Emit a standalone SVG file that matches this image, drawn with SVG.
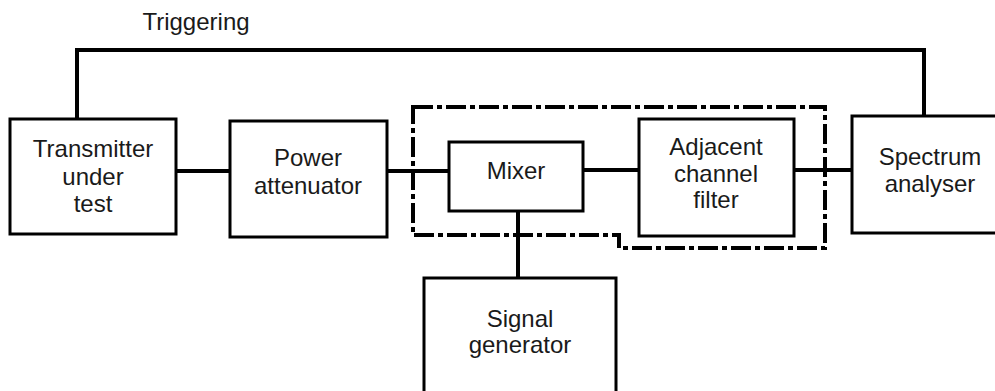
<svg xmlns="http://www.w3.org/2000/svg" width="995" height="391" viewBox="0 0 995 391">
<style>
.box{fill:#fff;stroke:#000;stroke-width:3}
.t{font-family:"Liberation Sans",Arial,sans-serif;font-size:24px;fill:#1a1a1a;text-anchor:middle}
.c{fill:none;stroke:#000;stroke-width:4}
.g{fill:none;stroke:#000;stroke-width:4;stroke-dasharray:20 4 5 4}
</style>
<rect width="995" height="391" fill="#fff"/>
<path class="g" d="M413,107 H825 V248 H619 V235 H413 Z"/>
<g id="connectors">
<path class="c" d="M77,119 V50 H924 V116"/>
<path class="c" d="M176,171 H232"/>
<path class="c" d="M386,171 H449"/>
<path class="c" d="M583,170 H640"/>
<path class="c" d="M794,170 H853"/>
<path class="c" d="M518,211 V278"/>
</g>
<text class="t" x="196" y="30">Triggering</text>
<g id="transmitter">
<rect class="box" x="10" y="119" width="166" height="115"/>
<text class="t" x="93" y="157">Transmitter</text>
<text class="t" x="93" y="185">under</text>
<text class="t" x="93" y="212">test</text>
</g>
<g id="attenuator">
<rect class="box" x="230" y="121" width="157" height="116"/>
<text class="t" x="308" y="166">Power</text>
<text class="t" x="308" y="194">attenuator</text>
</g>
<g id="mixer">
<rect class="box" x="449" y="142" width="134" height="69"/>
<text class="t" x="516" y="179">Mixer</text>
</g>
<g id="filter">
<rect class="box" x="639" y="119" width="155" height="117"/>
<text class="t" x="716" y="155">Adjacent</text>
<text class="t" x="716" y="182">channel</text>
<text class="t" x="716" y="208">filter</text>
</g>
<g id="spectrum">
<rect class="box" x="852" y="116" width="160" height="117"/>
<text class="t" x="930" y="165">Spectrum</text>
<text class="t" x="930" y="192">analyser</text>
</g>
<g id="siggen">
<rect class="box" x="424" y="278" width="192" height="130"/>
<text class="t" x="520" y="327">Signal</text>
<text class="t" x="520" y="353">generator</text>
</g>
</svg>
